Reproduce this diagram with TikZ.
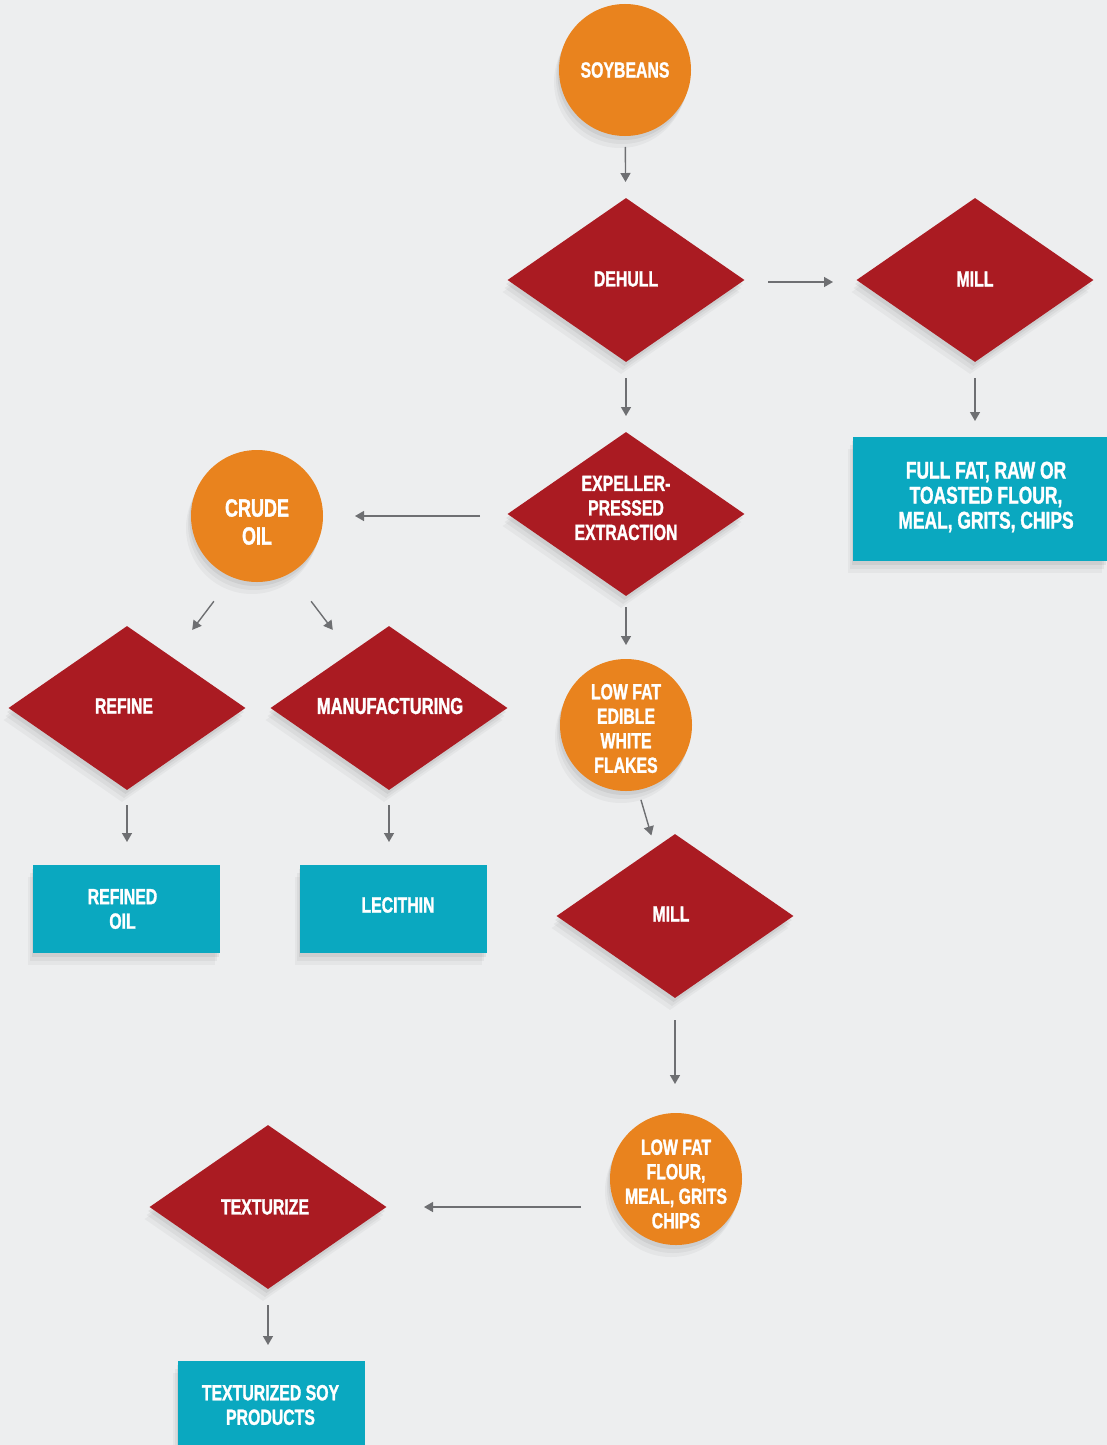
\documentclass[tikz,border=0pt]{standalone}
\usepackage{fontspec}
\setmainfont{Liberation Sans}[FakeStretch=0.72,BoldFeatures={FakeBold=1.3}]
\usetikzlibrary{shapes.geometric,arrows.meta,calc}
\definecolor{bgc}{HTML}{EDEEEF}
\definecolor{orng}{HTML}{E9831E}
\definecolor{redd}{HTML}{AA1B22}
\definecolor{teal}{HTML}{0AA8C0}
\definecolor{arrc}{HTML}{6E6F72}
\begin{document}
\begin{tikzpicture}[x=1pt,y=1pt,
  lbl/.style={text=white,font=\bfseries\fontsize{22}{24.5}\selectfont,align=center,inner sep=0pt},
  shd/.style={
    preaction={fill=black,opacity=0.035,transform canvas={xshift=-5pt,yshift=-12pt}},
    preaction={fill=black,opacity=0.045,transform canvas={xshift=-3pt,yshift=-8pt}},
    preaction={fill=black,opacity=0.06,transform canvas={xshift=-1.5pt,yshift=-4pt}}},
  rnd/.style={shd,circle,fill=orng,minimum size=132pt,inner sep=0pt},
  dia/.style={shd,diamond,aspect=1.445,fill=redd,minimum width=237pt,minimum height=164pt,inner sep=0pt},
  box/.style={shd,rectangle,fill=teal,minimum width=187pt,minimum height=88pt,inner sep=0pt},
  arr/.style={draw=arrc,line width=1.4pt,-{Triangle[width=10pt,length=9pt]}}
]
\fill[bgc] (0,0) rectangle (1107,-1445);
\useasboundingbox (0,0) rectangle (1107,-1445);

% shapes
\node[rnd] (soy) at (625,-70) {};
\node[dia] (dehull) at (626,-280) {};
\node[dia] (mill) at (975,-280) {};
\node[dia] (exp) at (626,-514) {};
\node[box,minimum width=254pt,minimum height=124pt] (full) at (980,-499) {};
\node[rnd] (crude) at (257,-516) {};
\node[dia] (refine) at (127,-708) {};
\node[dia] (manu) at (389,-708) {};
\node[rnd] (flakes) at (626,-725) {};
\node[box] (roil) at (126.5,-909) {};
\node[box] (lec) at (393.5,-909) {};
\node[dia] (mill2) at (675,-916) {};
\node[rnd] (flour) at (676,-1179) {};
\node[dia] (tex) at (268,-1207) {};
\node[box] (tsp) at (271.5,-1405) {};

% texts
\node[lbl] (soy-t) at ($(soy)+(0,0)$) {SOYBEANS};
\node[lbl] (dehull-t) at ($(dehull)+(0,1)$) {DEHULL};
\node[lbl] (mill-t) at ($(mill)+(0,1)$) {MILL};
\node[lbl] (exp-t) at ($(exp)+(0,6)$) {EXPELLER-\\PRESSED\\EXTRACTION};
\node[lbl,font=\bfseries\fontsize{24.2}{25}\selectfont] (full-t) at ($(full)+(6,2)$) {FULL FAT, RAW OR\\TOASTED FLOUR,\\MEAL, GRITS, CHIPS};
\node[lbl,font=\bfseries\fontsize{25}{28}\selectfont] (crude-t) at ($(crude)+(0,-6)$) {CRUDE\\OIL};
\node[lbl] (refine-t) at ($(refine)+(-3,2)$) {REFINE};
\node[lbl,font=\bfseries\fontsize{23}{24.5}\selectfont] (manu-t) at ($(manu)+(1,2)$) {MANUFACTURING};
\node[lbl] (flakes-t) at ($(flakes)+(0,-3.5)$) {LOW FAT\\EDIBLE\\WHITE\\FLAKES};
\node[lbl] (roil-t) at ($(roil)+(-4,0)$) {REFINED\\OIL};
\node[lbl] (lec-t) at ($(lec)+(4.5,4)$) {LECITHIN};
\node[lbl] (mill2-t) at ($(mill2)+(-4,2)$) {MILL};
\node[lbl] (flour-t) at ($(flour)+(0,-5)$) {LOW FAT\\FLOUR,\\MEAL, GRITS\\CHIPS};
\node[lbl] (tex-t) at ($(tex)+(-3,0)$) {TEXTURIZE};
\node[lbl] (tsp-t) at ($(tsp)+(-1,0)$) {TEXTURIZED SOY\\PRODUCTS};

% connectors
\draw[arr,shorten <=77pt,shorten >=98pt] (soy.center) -- (dehull.center);
\draw[arr,shorten <=142pt,shorten >=142pt] ([yshift=-2pt]dehull.center) -- ([yshift=-2pt]mill.center);
\draw[arr,shorten <=98pt,shorten >=98pt] (dehull.center) -- (exp.center);
\draw[arr,shorten <=98pt,shorten >=78pt] (mill.center) -- (mill.center |- full.center);
\draw[arr,shorten <=146pt,shorten >=98pt] ([yshift=-2pt]exp.center) -- (crude.center);
\draw[arr,shorten <=107pt,shorten >=98pt] ([xshift=21.5pt]crude.center) -- ([xshift=6pt]refine.center);
\draw[arr,shorten <=107pt,shorten >=98pt] ([xshift=-10.5pt]crude.center) -- ([xshift=3pt]manu.center);
\draw[arr,shorten <=93pt,shorten >=80pt] (exp.center) -- (flakes.center);
\draw[arr,shorten <=97pt,shorten >=67pt] (refine.center) -- (refine.center |- roil.center);
\draw[arr,shorten <=97pt,shorten >=67pt] (manu.center) -- (manu.center |- lec.center);
\draw[arr,shorten <=78pt,shorten >=84pt] ([xshift=-7pt]flakes.center) -- (mill2.center);
\draw[arr,shorten <=104pt,shorten >=95pt] (mill2.center) -- (mill2.center |- flour.center);
\draw[arr,shorten <=95pt,shorten >=156pt] (flour.center |- tex.center) -- (tex.center);
\draw[arr,shorten <=98pt,shorten >=60pt] (tex.center) -- (tex.center |- tsp.center);
\end{tikzpicture}
\end{document}
